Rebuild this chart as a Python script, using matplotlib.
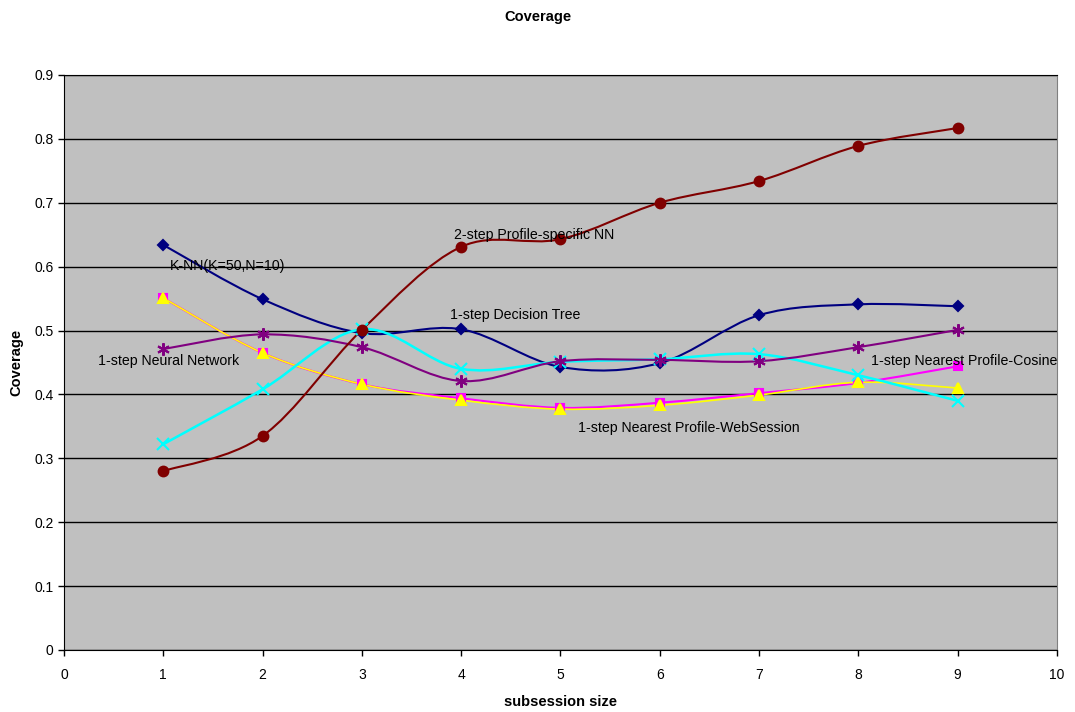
import matplotlib
matplotlib.use("Agg")
import matplotlib.pyplot as plt
from matplotlib.path import Path
from matplotlib.patches import PathPatch

plt.rcParams["font.family"] = ["Liberation Sans", "DejaVu Sans"]

sizes = [1, 2, 3, 4, 5, 6, 7, 8, 9]

knn = [0.634, 0.549, 0.496, 0.502, 0.443, 0.449, 0.524, 0.541, 0.538]
cosine = [0.551, 0.465, 0.416, 0.394, 0.379, 0.387, 0.402, 0.418, 0.444]
websession = [0.551, 0.465, 0.416, 0.391, 0.377, 0.383, 0.399, 0.419, 0.410]
decision_tree = [0.322, 0.408, 0.502, 0.440, 0.451, 0.455, 0.463, 0.430, 0.390]
neural_net = [0.471, 0.494, 0.474, 0.421, 0.452, 0.454, 0.452, 0.474, 0.501]
two_step = [0.280, 0.335, 0.501, 0.631, 0.643, 0.700, 0.734, 0.789, 0.817]

labels = [
    ("K-NN(K=50,N=10)", 1.07, 0.601),
    ("2-step Profile-specific NN", 3.93, 0.649),
    ("1-step Decision Tree", 3.89, 0.524),
    ("1-step Neural Network", 0.34, 0.452),
    ("1-step Nearest Profile-Cosine", 8.13, 0.452),
    ("1-step Nearest Profile-WebSession", 5.18, 0.347),
]


def smooth_path(xs, ys):
    # excel-style smoothed line: cubic bezier through each point
    pts = list(zip(xs, ys))
    n = len(pts)
    verts = [pts[0]]
    codes = [Path.MOVETO]
    for i in range(n - 1):
        p0 = pts[max(i - 1, 0)]
        p1 = pts[i]
        p2 = pts[i + 1]
        p3 = pts[min(i + 2, n - 1)]
        c1 = (p1[0] + (p2[0] - p0[0]) / 6, p1[1] + (p2[1] - p0[1]) / 6)
        c2 = (p2[0] - (p3[0] - p1[0]) / 6, p2[1] - (p3[1] - p1[1]) / 6)
        verts += [c1, c2, p2]
        codes += [Path.CURVE4] * 3
    return Path(verts, codes)


fig = plt.figure(figsize=(10.75, 7.12), dpi=100)
ax = fig.add_axes([0.0595, 0.0871, 0.9237, 0.8076])
ax.set_facecolor("#C0C0C0")

series = [
    (knn, "#000080", "D", 5.5, 1.5),
    (cosine, "#FF00FF", "s", 6, 1.5),
    (websession, "#FFFF00", "^", 7, 1.2),
    (decision_tree, "#00FFFF", "x", 8, 1.8),
    (neural_net, "#800080", (6, 2, 0), 9, 1.5),
    (two_step, "#800000", "o", 7, 1.5),
]

for ys, color, marker, ms, lw in series:
    ax.add_patch(PathPatch(smooth_path(sizes, ys), fill=False, edgecolor=color, lw=lw, zorder=3))
    ax.plot(sizes, ys, linestyle="none", marker=marker, markersize=ms,
            color=color, markeredgecolor=color, markeredgewidth=1.5, zorder=4)

for text, x, y in labels:
    ax.text(x, y, text, fontsize=10.2, va="center", ha="left", color="black", zorder=5)

ax.set_xlim(0, 10)
ax.set_ylim(0, 0.9)
ax.set_xticks(range(0, 11))
ax.set_yticks([i / 10 for i in range(10)])
ax.set_yticklabels(["0", "0.1", "0.2", "0.3", "0.4", "0.5", "0.6", "0.7", "0.8", "0.9"])
ax.tick_params(labelsize=10, length=4, width=1, direction="out")
ax.tick_params(axis="x", pad=9)
ax.grid(axis="y", color="black", linewidth=1)
ax.set_axisbelow(True)
ax.spines["right"].set_color("#808080")
ax.spines["top"].set_color("black")

fig.text(538 / 1075, 1 - 17 / 712, "Coverage", fontsize=10.5, fontweight="bold",
         ha="center", va="center")
ax.set_xlabel("subsession size", fontsize=10.5, fontweight="bold", labelpad=9)
ax.set_ylabel("Coverage", fontsize=10.5, fontweight="bold", labelpad=8)

fig.savefig("out.png", dpi=100)
